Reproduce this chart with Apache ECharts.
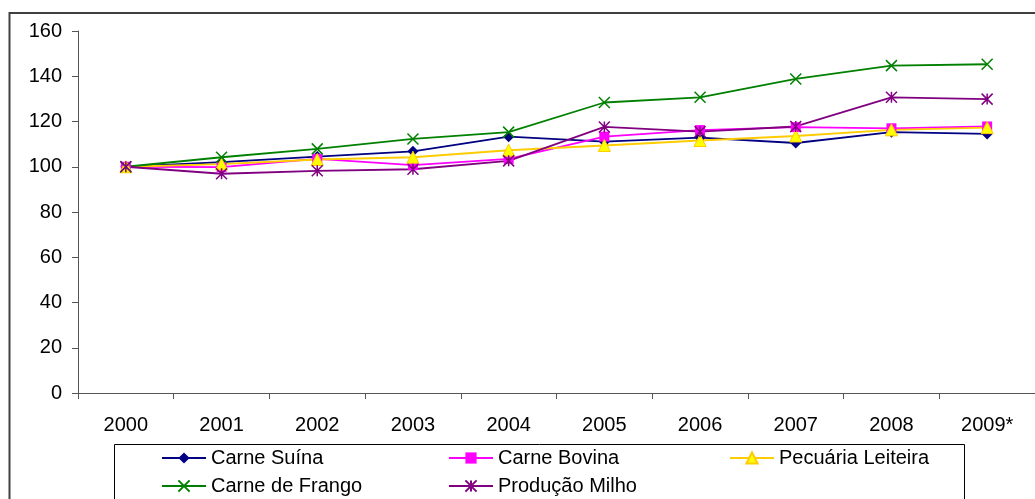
<!DOCTYPE html>
<html>
<head>
<meta charset="utf-8">
<script src="https://cdn.jsdelivr.net/npm/echarts@6/dist/echarts.min.js"></script>
<style>
html,body{margin:0;padding:0;background:#fff;}
#chart{width:1035px;height:499px;}
</style>
</head>
<body>
<div id="chart"></div>
<script>
var categories = ['2000','2001','2002','2003','2004','2005','2006','2007','2008','2009*'];
var carneSuina = [100, 102, 104.5, 106.8, 113.3, 111.1, 112.9, 110.5, 115.3, 114.5];
var carneBovina = [100, 99.8, 103.5, 100.7, 103.5, 113.3, 116.2, 117.5, 117, 117.8];
var pecuariaLeiteira = [100, 101.2, 103.2, 104.2, 107.3, 109.4, 111.6, 113.6, 116.3, 117.3];
var carneFrango = [100, 104.2, 107.9, 112.3, 115.3, 128.4, 130.7, 138.8, 144.7, 145.3];
var producaoMilho = [100, 96.9, 98.2, 98.9, 102.6, 117.6, 115.5, 117.8, 130.7, 129.9];
var seriesNames = ['Carne Suína','Carne Bovina','Pecuária Leiteira','Carne de Frango','Produção Milho'];

var FONT = "'Liberation Sans', Arial, sans-serif";
var chart = echarts.init(document.getElementById('chart'), null, {renderer:'canvas'});

function lineSeries(name, data, color, symbol, size, itemStyle) {
  return {
    name: name, type: 'line', data: data,
    symbol: symbol, symbolSize: size, symbolKeepAspect: true,
    showAllSymbol: true,
    lineStyle: {color: color, width: 1.8},
    itemStyle: itemStyle,
    emphasis: {disabled: true},
    animation: false
  };
}

var legendText = {fontFamily: FONT, fontSize: 20, color: '#000', lineHeight: 20};
function legend(names, left) {
  return {
    data: names, orient: 'vertical', left: left, top: 448,
    itemWidth: 44, itemHeight: 14, itemGap: 8, itemStyle: {},
    textStyle: legendText, selectedMode: false, padding: 0
  };
}

chart.setOption({
  animation: false,
  backgroundColor: '#fff',
  grid: {left: 78, top: 31, width: 966, height: 362, containLabel: false},
  xAxis: {
    type: 'category', data: categories, boundaryGap: true,
    axisLine: {lineStyle: {color: '#555', width: 1}},
    axisTick: {show: true, length: 6, inside: false, alignWithLabel: false, lineStyle: {color: '#555'}},
    axisLabel: {fontFamily: FONT, fontSize: 20, color: '#000', margin: 22, interval: 0},
    splitLine: {show: false}
  },
  yAxis: {
    type: 'value', min: 0, max: 160, interval: 20,
    axisLine: {show: true, lineStyle: {color: '#555', width: 1}},
    axisTick: {show: true, length: 6, lineStyle: {color: '#555'}},
    axisLabel: {fontFamily: FONT, fontSize: 20, color: '#000', margin: 16},
    splitLine: {show: false}
  },
  legend: [
    legend(['Carne Suína','Carne de Frango'], 161),
    legend(['Carne Bovina','Produção Milho'], 448),
    legend(['Pecuária Leiteira'], 729)
  ],
  graphic: [
    {type: 'rect', shape: {x: 9.5, y: 13, width: 1100, height: 600},
     style: {fill: 'none', stroke: '#404040', lineWidth: 2}, z: -1},
    {type: 'rect', shape: {x: 114.5, y: 444.5, width: 850, height: 100},
     style: {fill: 'none', stroke: '#000', lineWidth: 1}, z: -1}
  ],
  series: [
    lineSeries(seriesNames[0], carneSuina, '#000080', 'diamond', 11, {color: '#000080'}),
    lineSeries(seriesNames[1], carneBovina, '#FF00FF', 'rect', 10, {color: '#FF00FF'}),
    lineSeries(seriesNames[2], pecuariaLeiteira, '#FFCC00', 'triangle', 12, {color: '#FFFF00', borderColor: '#FFCC00', borderWidth: 1}),
    lineSeries(seriesNames[3], carneFrango, '#008000', 'path://M0 0 L10 10 M10 0 L0 10', 11, {color: 'transparent', borderColor: '#008000', borderWidth: 1.5}),
    lineSeries(seriesNames[4], producaoMilho, '#800080', 'path://M0 0 L10 10 M10 0 L0 10 M5 0 L5 10', 11, {color: 'transparent', borderColor: '#800080', borderWidth: 1.5})
  ]
});
</script>
</body>
</html>
